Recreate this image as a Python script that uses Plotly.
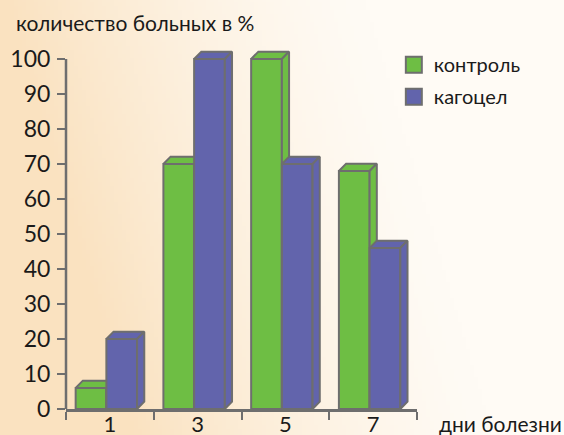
import base64, struct, zlib
import numpy as np
import plotly.graph_objects as go

# ---- data ----
days = ["1", "3", "5", "7"]
control = [6, 70, 100, 68]
kagocel = [20, 100, 70, 46]
y_ticks = [0, 10, 20, 30, 40, 50, 60, 70, 80, 90, 100]
series_names = ["контроль", "кагоцел"]

# ---- style ----
W, H = 564, 435
ML, MR, MT, MB = 66, 147, 24, 26
PW, PH = W - ML - MR, H - MT - MB
GREEN = "#6ebe44"
BLUE = "#6264ac"
EDGE = "#6e6e6e"
FONT = "Lato"
BAR_W = 0.35
DX, DY = 0.082, 2.1
OFFSETS = [-0.39, -0.04]


def bg_png(w=141, h=109):
    yy, xx = np.mgrid[0:h, 0:w]
    fx, fy = xx / (w - 1), yy / (h - 1)
    wgt = np.clip(1.0 - 1.55 * fx + 0.35 * fy, 0, 1) ** 1.4
    base = np.array([255, 251, 245], float)
    peach = np.array([250, 226, 192], float)
    img = base[None, None, :] * (1 - wgt[..., None]) + peach[None, None, :] * wgt[..., None]
    img = img.astype(np.uint8)
    raw = b"".join(b"\x00" + img[r].tobytes() for r in range(h))

    def chunk(t, d):
        c = struct.pack(">I", len(d)) + t + d
        return c + struct.pack(">I", zlib.crc32(t + d) & 0xFFFFFFFF)

    png = b"\x89PNG\r\n\x1a\n" + chunk(b"IHDR", struct.pack(">IIBBBBB", w, h, 8, 2, 0, 0, 0))
    png += chunk(b"IDAT", zlib.compress(raw, 9)) + chunk(b"IEND", b"")
    return "data:image/png;base64," + base64.b64encode(png).decode()


def faces(values, off):
    fx, fy, tx, ty, sx, sy = [], [], [], [], [], []
    for i, v in enumerate(values):
        xl = i + off
        xr = xl + BAR_W
        fx += [xl, xl, xr, xr, xl, None]
        fy += [0, v, v, 0, 0, None]
        tx += [xl, xl + DX, xr + DX, xr, xl, None]
        ty += [v, v + DY, v + DY, v, v, None]
        sx += [xr, xr + DX, xr + DX, xr, xr, None]
        sy += [0, DY, v + DY, v, 0, None]
    return (fx, fy), (tx, ty), (sx, sy)


fig = go.Figure()
for vals, off, col in [(control, OFFSETS[0], GREEN), (kagocel, OFFSETS[1], BLUE)]:
    for (px, py) in faces(vals, off):
        fig.add_trace(go.Scatter(
            x=px, y=py, mode="lines", fill="toself", fillcolor=col,
            line=dict(color=EDGE, width=2), showlegend=False, hoverinfo="skip"))

for name, col, grp in [(series_names[0], GREEN, "a"), (series_names[1], BLUE, "b")]:
    fig.add_trace(go.Scatter(
        x=[None], y=[None], xaxis="x2", mode="markers", name=name, legendgroup=grp,
        marker=dict(symbol="square", size=16, color=col, line=dict(color=EDGE, width=2))))

axis_font = dict(family=FONT, size=23, color="#1a1a1a")
fig.update_layout(
    width=W, height=H,
    margin=dict(l=ML, r=MR, t=MT, b=MB, pad=0, autoexpand=False),
    paper_bgcolor="#fdf3e6", plot_bgcolor="rgba(0,0,0,0)",
    font=dict(family=FONT, size=20, color="#1a1a1a"),
    xaxis=dict(range=[-0.5, 3.5], tickvals=list(range(len(days))), ticktext=days,
               ticks="", showline=False, showgrid=False, zeroline=False,
               tickfont=dict(family=FONT, size=22, color="#1a1a1a"), fixedrange=True,
               automargin=False, ticklabelstandoff=0),
    xaxis2=dict(range=[-0.5, 3.5], overlaying="x", side="bottom",
                tickvals=[i - 0.5 for i in range(len(days) + 1)], showticklabels=False,
                ticks="outside", ticklen=8, tickwidth=2, tickcolor=EDGE,
                showline=True, linecolor=EDGE, linewidth=2.5, automargin=False,
                showgrid=False, zeroline=False),
    yaxis=dict(range=[0, 110], tickvals=y_ticks, ticks="outside", ticklen=8, tickwidth=2,
               tickcolor=EDGE, showline=False, showgrid=False, zeroline=False,
               tickfont=axis_font, ticklabelstandoff=2, automargin=False),
    legend=dict(x=0.934, y=0.945, xanchor="left", yanchor="top", bgcolor="rgba(0,0,0,0)",
                font=dict(family=FONT, size=20, color="#1a1a1a"), tracegroupgap=3),
    showlegend=True,
    images=[dict(source=bg_png(), xref="paper", yref="paper", x=-ML / PW, y=1 + MT / PH,
                 sizex=W / PW, sizey=H / PH, sizing="stretch", xanchor="left",
                 yanchor="top", layer="below")],
    shapes=[dict(type="line", xref="paper", yref="y", x0=0, x1=0, y0=0, y1=100,
                 line=dict(color=EDGE, width=2.5))],
    annotations=[
        dict(text="количество больных в %", xref="paper", yref="paper",
             x=-52 / PW, y=1 + (MT - 22) / PH, xanchor="left", yanchor="middle",
             showarrow=False, font=dict(family=FONT, size=21, color="#1a1a1a")),
        dict(text="дни болезни", xref="paper", yref="paper",
             x=1 + 20 / PW, y=-15 / PH, xanchor="left", yanchor="middle", showarrow=False,
             font=dict(family=FONT, size=21, color="#1a1a1a")),
    ],
)
fig.write_html("out.html")
